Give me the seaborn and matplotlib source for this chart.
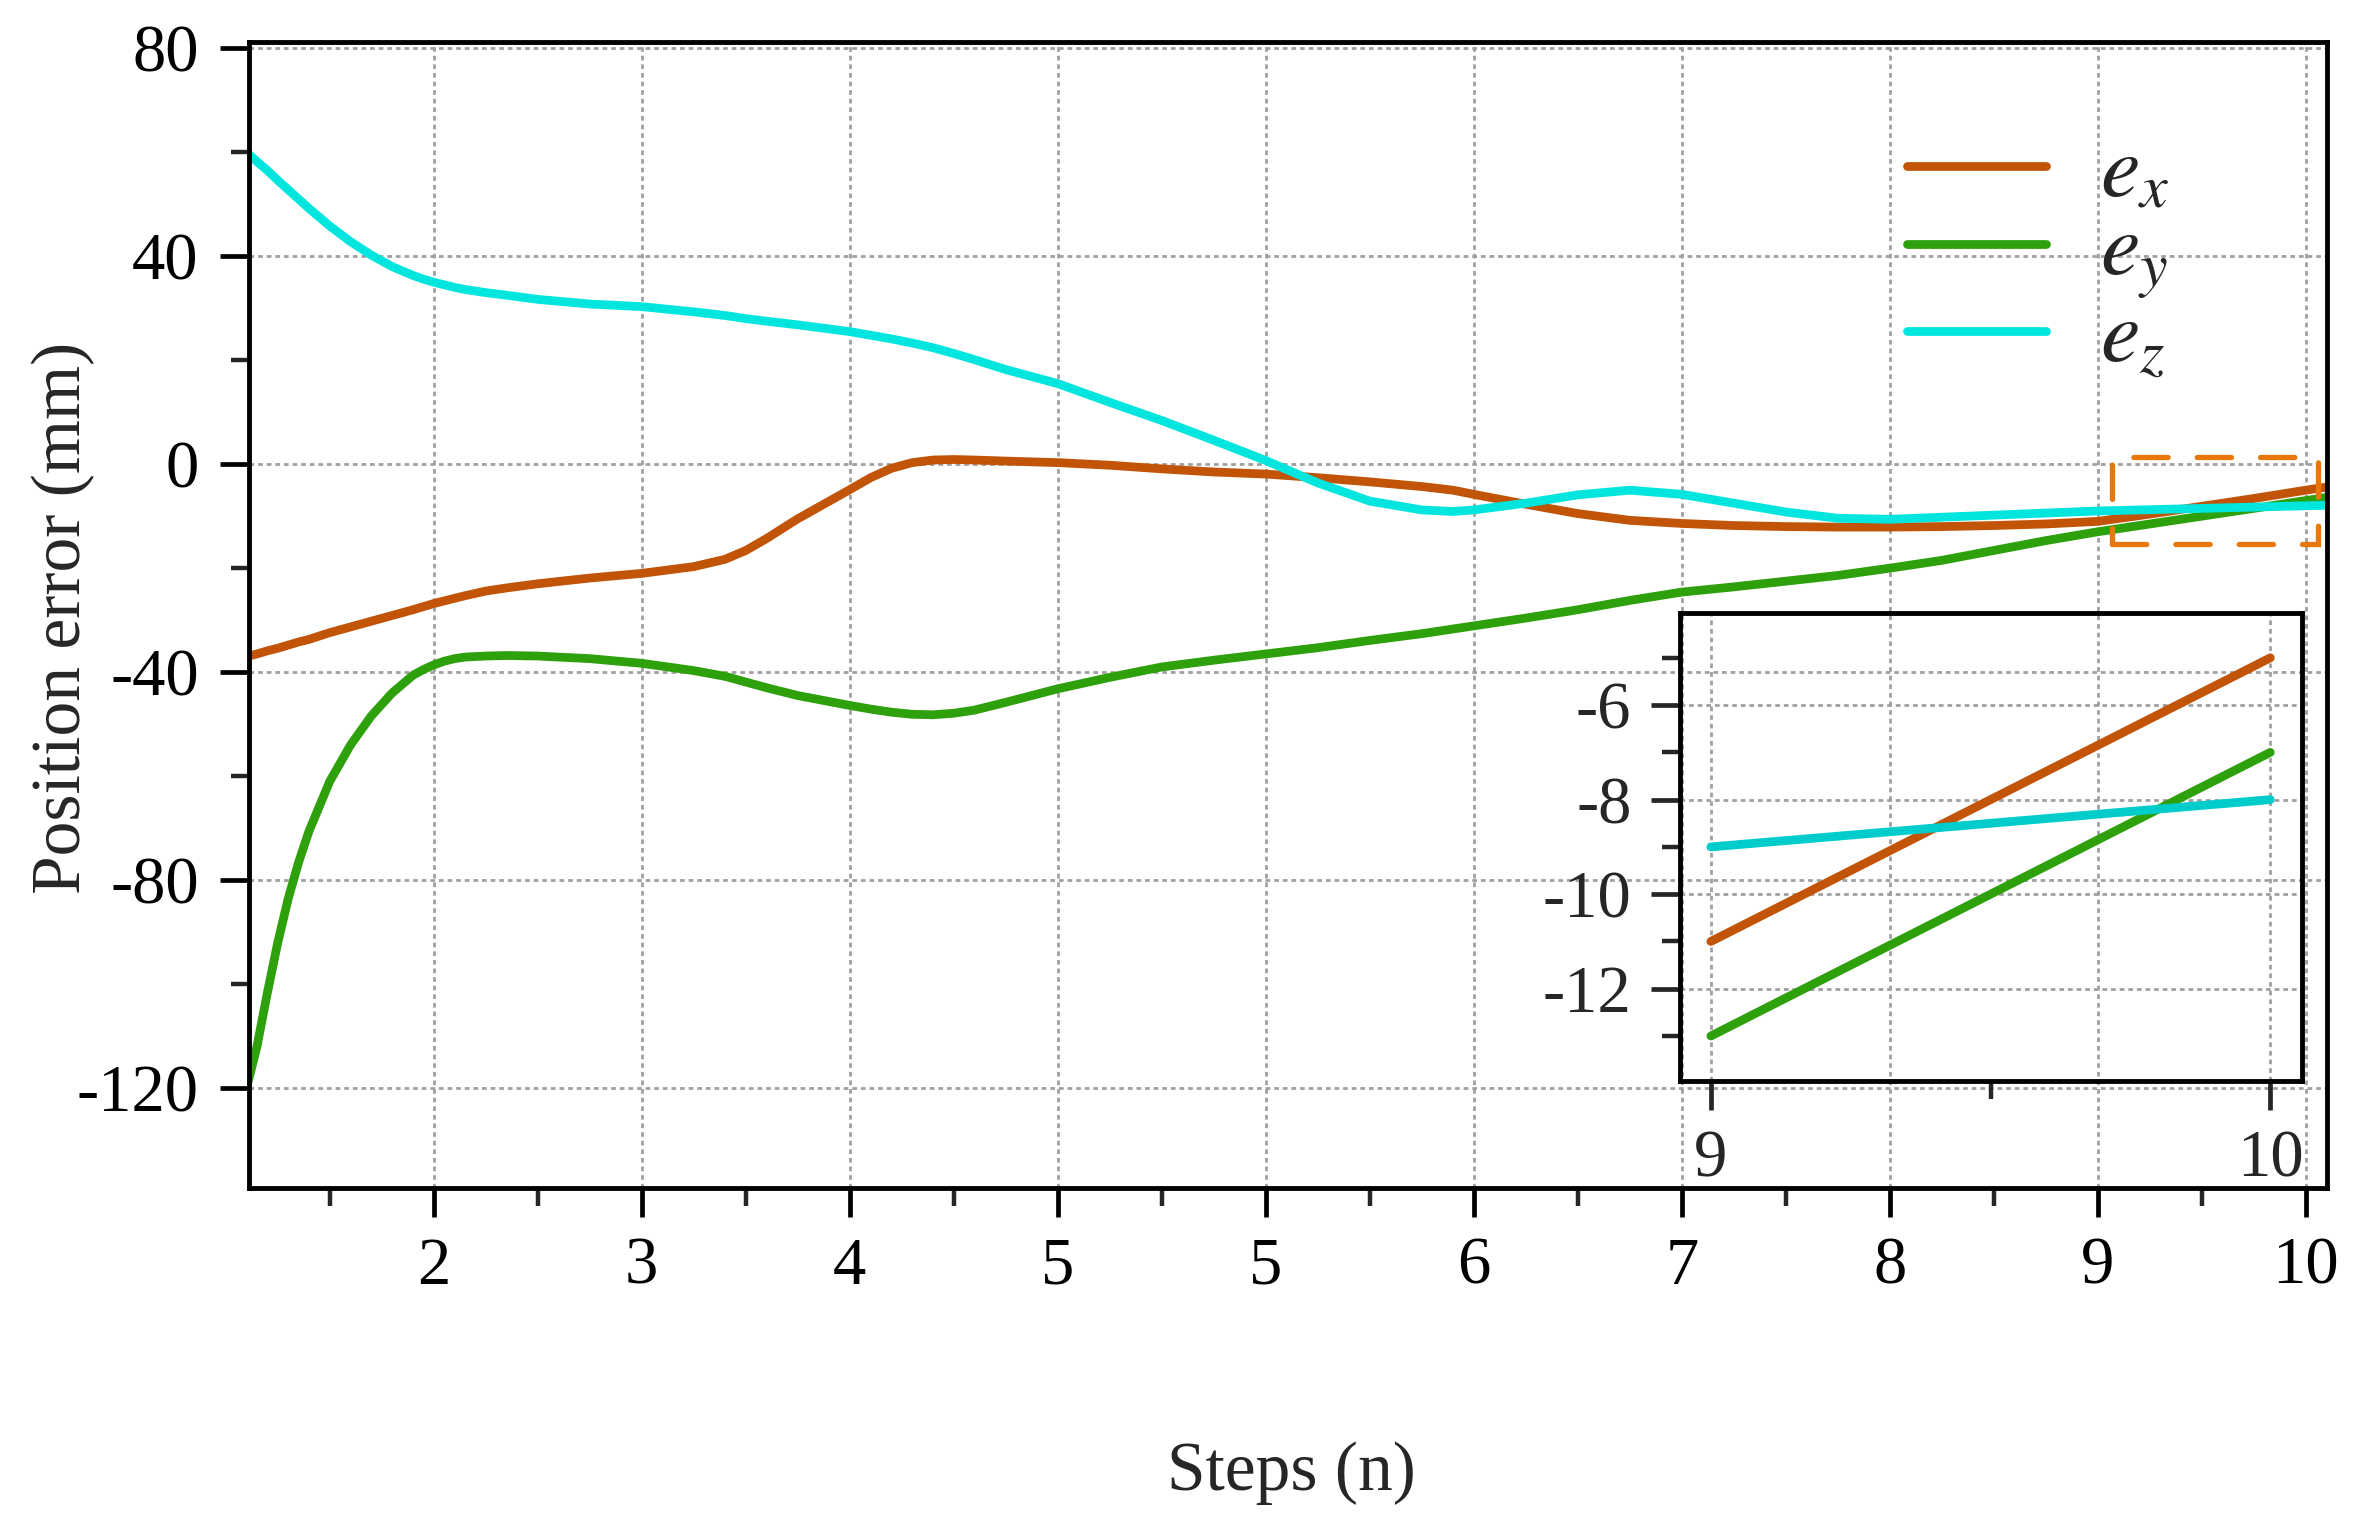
import pandas as pd
import seaborn as sns
import matplotlib.pyplot as plt
from matplotlib.patches import Rectangle
from matplotlib.lines import Line2D
from matplotlib.ticker import FixedLocator

sns.set_style('ticks')
plt.rcParams['font.family'] = ['Liberation Serif', 'DejaVu Serif']
plt.rcParams['mathtext.fontset'] = 'stix'
plt.rcParams['axes.unicode_minus'] = False

# main curves, x is the tick position (labels below are what the axis shows)
steps = [1.1, 1.15, 1.2, 1.25, 1.3, 1.35, 1.4, 1.5, 1.6, 1.7, 1.8, 1.9, 1.95,
         2.0, 2.05, 2.1, 2.15, 2.25, 2.35, 2.5, 2.75, 3.0, 3.25, 3.4, 3.5, 3.6,
         3.75, 4.0, 4.1, 4.2, 4.3, 4.4, 4.5, 4.6, 4.75, 5.0, 5.25, 5.5, 5.75,
         6.0, 6.25, 6.5, 6.75, 6.9, 7.0, 7.25, 7.5, 7.75, 8.0, 8.25, 8.5, 8.75,
         9.0, 9.25, 9.5, 9.75, 10.0, 10.25, 10.5, 10.75, 11.0, 11.1]
e_x = [-37, -36.5, -35.9, -35.4, -34.8, -34.2, -33.7, -32.4, -31.3, -30.2, -29.1,
       -28, -27.4, -26.8, -26.3, -25.8, -25.3, -24.4, -23.8, -23, -21.9, -21,
       -19.7, -18.3, -16.6, -14.3, -10.5, -4.9, -2.6, -0.8, 0.3, 0.8, 0.9, 0.8,
       0.6, 0.3, -0.2, -0.9, -1.5, -1.9, -2.6, -3.4, -4.3, -5.0, -5.8, -7.7,
       -9.5, -10.8, -11.4, -11.8, -12, -12.1, -12.1, -12, -11.8, -11.5, -11,
       -9.6, -8.1, -6.6, -5, -4.4]
e_y = [-120, -112, -101.7, -92, -83.6, -76.6, -70.6, -61, -54, -48.4, -44, -40.6,
       -39.5, -38.6, -37.9, -37.4, -37.1, -36.9, -36.8, -36.9, -37.4, -38.3,
       -39.7, -40.8, -41.9, -43.0, -44.5, -46.4, -47.1, -47.7, -48.1, -48.2,
       -47.9, -47.3, -45.8, -43.2, -41, -39.0, -37.7, -36.5, -35.3, -33.9,
       -32.6, -31.7, -31.1, -29.6, -28, -26.2, -24.6, -23.6, -22.5, -21.4,
       -20, -18.5, -16.6, -14.7, -13, -11.5, -10, -8.5, -7, -6.4]
e_z = [60, 58.2, 56.5, 54.6, 52.8, 51.0, 49.2, 45.8, 42.8, 40.2, 38.0, 36.3, 35.6,
       35.0, 34.5, 34.0, 33.6, 33, 32.5, 31.7, 30.8, 30.3, 29.3, 28.6, 28.0,
       27.5, 26.8, 25.5, 24.8, 24.1, 23.3, 22.4, 21.3, 20.1, 18.2, 15.5, 11.9,
       8.4, 4.6, 0.7, -3.6, -7.1, -8.8, -9.1, -8.8, -7.5, -5.9, -5.0, -5.8,
       -7.5, -9.2, -10.4, -10.6, -10.2, -9.8, -9.4, -9, -8.75, -8.5, -8.25,
       -8, -7.9]

tick_pos = [2, 3, 4, 5, 6, 7, 8, 9, 10, 11]
tick_labels = ['2', '3', '4', '5', '5', '6', '7', '8', '9', '10']

# zoomed part (last step)
zoom_steps = [9, 10]
zoom_e_x = [-11, -5]
zoom_e_y = [-13, -7]
zoom_e_z = [-9, -8]

COLORS = {'e_x': '#C15406', 'e_y': '#2DA00C', 'e_z': '#00E6DE'}
ZOOM_COLORS = {'e_x': '#C15406', 'e_y': '#2DA00C', 'e_z': '#00CCCC'}
ORDER = ['e_y', 'e_x', 'e_z']

df = pd.DataFrame({'step': steps, 'e_x': e_x, 'e_y': e_y, 'e_z': e_z})
df = df.melt(id_vars='step', var_name='series', value_name='error')
df_zoom = pd.DataFrame({'step': zoom_steps, 'e_x': zoom_e_x, 'e_y': zoom_e_y, 'e_z': zoom_e_z})
df_zoom = df_zoom.melt(id_vars='step', var_name='series', value_name='error')

grid_kw = dict(color='#a0a0a0', linestyle=(0, (1.7, 1.4)), linewidth=2)

fig = plt.figure(figsize=(23.68, 15.22), dpi=100)
ax = fig.add_axes([0.105, 0.2195, 0.8775, 0.7529])

sns.lineplot(data=df, x='step', y='error', hue='series', hue_order=ORDER,
             palette=COLORS, linewidth=6.3, estimator=None, sort=False,
             legend=False, solid_joinstyle='round', ax=ax)

ax.set_xlim(1.11, 11.1)
ax.set_ylim(-139.2, 81.2)
ax.xaxis.set_major_locator(FixedLocator(tick_pos))
ax.set_xticklabels(tick_labels)
ax.xaxis.set_minor_locator(FixedLocator([p + 0.5 for p in range(1, 11)]))
ax.yaxis.set_major_locator(FixedLocator([80, 40, 0, -40, -80, -120]))
ax.yaxis.set_minor_locator(FixedLocator([60, 20, -20, -60, -100]))
ax.grid(True, which='major', **grid_kw)

ax.tick_params(which='major', direction='out', length=21, width=3.4,
               labelsize=48, colors='black')
ax.tick_params(axis='x', which='major', pad=14)
ax.tick_params(axis='y', which='major', pad=15)
ax.tick_params(which='minor', direction='out', length=13, width=3.2)
for s in ax.spines.values():
    s.set_visible(True)
    s.set_linewidth(3.5)
    s.set_color('black')

ax.set_xlabel('Steps (n)', fontsize=50)
ax.set_ylabel('Position error (mm)', fontsize=50)
ax.xaxis.set_label_coords(0.502, -0.221)
ax.yaxis.set_label_coords(-0.074, 0.497)

# dashed box marking the zoomed region
ax.add_patch(Rectangle((10.07, -15.4), 0.99, 16.8, fill=False, edgecolor='#E6780A',
                       linewidth=3.8, linestyle=(0, (6.5, 5.5)), capstyle='round',
                       zorder=5))

handles = [Line2D([0], [0], color=COLORS[k], lw=6.3, solid_capstyle='round')
           for k in ['e_x', 'e_y', 'e_z']]
ax.legend(handles, ['$e_x$', '$e_y$', '$e_z$'], loc='upper left',
          bbox_to_anchor=(0.798, 0.919), frameon=False, fontsize=64,
          handlelength=1.57, handletextpad=0.6, labelspacing=-0.03,
          borderpad=0, borderaxespad=0)

# inset
ax_in = fig.add_axes([0.7095, 0.2898, 0.2627, 0.3075])
ax_in.set_facecolor('none')
sns.lineplot(data=df_zoom, x='step', y='error', hue='series', hue_order=ORDER,
             palette=ZOOM_COLORS, linewidth=6.3, estimator=None, sort=False,
             legend=False, solid_capstyle='round', ax=ax_in)
ax_in.set_xlim(8.945, 10.057)
ax_in.set_ylim(-13.95, -4.05)
ax_in.xaxis.set_major_locator(FixedLocator([9, 10]))
ax_in.xaxis.set_minor_locator(FixedLocator([9.5]))
ax_in.yaxis.set_major_locator(FixedLocator([-6, -8, -10, -12]))
ax_in.yaxis.set_minor_locator(FixedLocator([-5, -7, -9, -11, -13]))
ax_in.grid(True, which='major', **grid_kw)
ax_in.tick_params(which='major', direction='out', length=21, width=3.4,
                  labelsize=48, pad=14)
ax_in.tick_params(which='minor', direction='out', length=13, width=3.2)
ax_in.set_xlabel('')
ax_in.set_ylabel('')
for s in ax_in.spines.values():
    s.set_visible(True)
    s.set_linewidth(3.5)
    s.set_color('black')

plt.savefig('out.png', dpi=100)
